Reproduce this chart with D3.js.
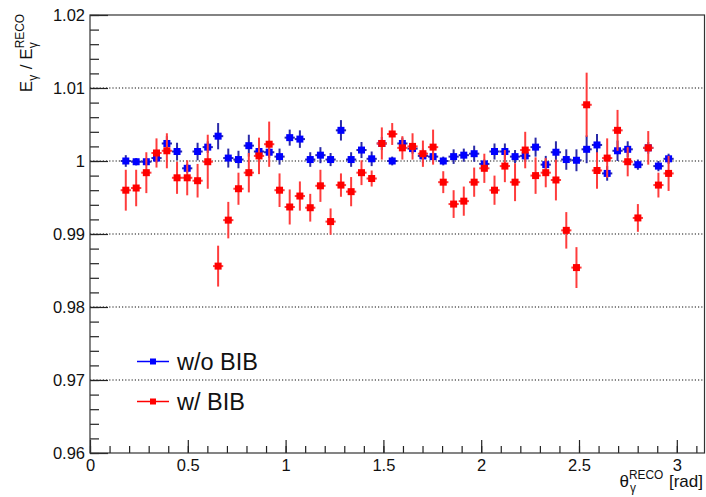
<!DOCTYPE html>
<html>
<head>
<meta charset="utf-8">
<script src="https://cdn.jsdelivr.net/npm/d3@7"></script>
<style>
  body { margin: 0; background: #fff; }
  text { font-family: "Liberation Sans", Arial, Helvetica, sans-serif; fill: #111; }
</style>
</head>
<body>
<div id="chart"></div>
<script>
// bin centres (theta, rad) of the filled bins
const theta = [0.183, 0.236, 0.288, 0.340, 0.393, 0.445, 0.497, 0.550, 0.602, 0.655,
  0.707, 0.759, 0.812, 0.864, 0.916, 0.969, 1.021, 1.073, 1.126, 1.178,
  1.230, 1.283, 1.335, 1.388, 1.440, 1.492, 1.545, 1.597, 1.649, 1.702,
  1.754, 1.806, 1.859, 1.911, 1.964, 2.016, 2.068, 2.121, 2.173, 2.225,
  2.278, 2.330, 2.382, 2.435, 2.487, 2.539, 2.592, 2.644, 2.697, 2.749,
  2.801, 2.854, 2.906, 2.958];
const thetaHalfWidth = 0.0262;

// w/o BIB
const noBib = [1.0000, 0.9999, 0.9999, 1.0004, 1.0024, 1.0013, 0.9990, 1.0013, 1.0019, 1.0034,
  1.0004, 1.0002, 1.0021, 1.0013, 1.0012, 1.0006, 1.0032, 1.0030, 1.0002, 1.0008,
  1.0002, 1.0042, 1.0002, 1.0015, 1.0003, 1.0024, 1.0000, 1.0024, 1.0017, 1.0007,
  1.0006, 1.0000, 1.0006, 1.0008, 1.0010, 0.9996, 1.0013, 1.0013, 1.0006, 1.0007,
  1.0019, 0.9995, 1.0012, 1.0002, 1.0001, 1.0016, 1.0022, 0.9983, 1.0014, 1.0016,
  0.9995, 1.0018, 0.9993, 1.0003];
const noBibErr = [0.0008, 0.0005, 0.0005, 0.0006, 0.0010, 0.0012, 0.0006, 0.0012, 0.0008, 0.0018,
  0.0013, 0.0012, 0.0015, 0.0012, 0.0008, 0.0011, 0.0011, 0.0012, 0.0010, 0.0011,
  0.0009, 0.0014, 0.0010, 0.0011, 0.0010, 0.0009, 0.0006, 0.0008, 0.0007, 0.0010,
  0.0008, 0.0006, 0.0010, 0.0009, 0.0011, 0.0006, 0.0011, 0.0011, 0.0009, 0.0008,
  0.0013, 0.0012, 0.0015, 0.0014, 0.0015, 0.0019, 0.0015, 0.0010, 0.0014, 0.0011,
  0.0007, 0.0008, 0.0007, 0.0007];

// w/ BIB
const withBib = [0.9960, 0.9963, 0.9984, 1.0011, 1.0014, 0.9977, 0.9977, 0.9973, 0.9999, 0.9856,
  0.9919, 0.9962, 0.9984, 1.0007, 1.0023, 0.9960, 0.9937, 0.9952, 0.9936, 0.9966,
  0.9917, 0.9967, 0.9958, 0.9984, 0.9976, 1.0024, 1.0037, 1.0018, 1.0020, 1.0010,
  1.0019, 0.9971, 0.9941, 0.9945, 0.9971, 0.9990, 0.9960, 0.9993, 0.9971, 1.0015,
  0.9980, 0.9984, 0.9974, 0.9905, 0.9854, 1.0077, 0.9987, 1.0004, 1.0042, 0.9999,
  0.9922, 1.0018, 0.9967, 0.9983];
const withBibErr = [0.0028, 0.0025, 0.0028, 0.0020, 0.0024, 0.0022, 0.0024, 0.0023, 0.0037, 0.0028,
  0.0025, 0.0022, 0.0027, 0.0025, 0.0031, 0.0023, 0.0024, 0.0020, 0.0019, 0.0022,
  0.0018, 0.0016, 0.0020, 0.0017, 0.0011, 0.0022, 0.0015, 0.0016, 0.0018, 0.0018,
  0.0024, 0.0015, 0.0019, 0.0020, 0.0020, 0.0020, 0.0020, 0.0022, 0.0026, 0.0025,
  0.0025, 0.0020, 0.0028, 0.0025, 0.0028, 0.0044, 0.0025, 0.0027, 0.0028, 0.0020,
  0.0019, 0.0023, 0.0017, 0.0024];

// axis ticks and labels
const yTicks = [0.96, 0.97, 0.98, 0.99, 1.00, 1.01, 1.02];
const yTickLabels = ["0.96", "0.97", "0.98", "0.99", "1", "1.01", "1.02"];
const xTicks = [0, 0.5, 1, 1.5, 2, 2.5, 3];
const xTickLabels = ["0", "0.5", "1", "1.5", "2", "2.5", "3"];
const legendLabels = ["w/o BIB", "w/ BIB"];

const width = 706, height = 497;
const plot = { left: 90, right: 704.5, top: 15, bottom: 453 };

const svg = d3.select("#chart").append("svg")
  .attr("width", width)
  .attr("height", height);

const x = d3.scaleLinear().domain([0, Math.PI]).range([plot.left, plot.right]);
const y = d3.scaleLinear().domain([0.96, 1.02]).range([plot.bottom, plot.top]);

// dotted horizontal grid (inner major ticks only)
svg.append("g")
  .selectAll("line")
  .data(yTicks.slice(1, -1))
  .enter().append("line")
  .attr("x1", plot.left)
  .attr("x2", plot.right)
  .attr("y1", d => y(d))
  .attr("y2", d => y(d))
  .attr("stroke", "#111")
  .attr("stroke-width", 1.2)
  .attr("stroke-dasharray", "1.2,2");

// Y axis: major + minor ticks pointing inside
const yMinor = d3.range(0.96, 1.0201, 0.002);
svg.append("g")
  .attr("transform", "translate(" + plot.left + ",0)")
  .call(d3.axisLeft(y).tickValues(yMinor).tickSize(-9).tickFormat(""))
  .call(g => g.select(".domain").remove());
svg.append("g")
  .attr("transform", "translate(" + plot.left + ",0)")
  .call(d3.axisLeft(y).tickValues(yTicks).tickSize(-18).tickPadding(5)
    .tickFormat((d, i) => yTickLabels[i]))
  .call(g => g.select(".domain").remove())
  .call(g => g.selectAll("text").attr("font-size", 16.5).attr("dy", "0.35em"));

// X axis
const xMinor = d3.range(0, 3.15, 0.1);
svg.append("g")
  .attr("transform", "translate(0," + plot.bottom + ")")
  .call(d3.axisBottom(x).tickValues(xMinor).tickSize(-7).tickFormat(""))
  .call(g => g.select(".domain").remove());
svg.append("g")
  .attr("transform", "translate(0," + plot.bottom + ")")
  .call(d3.axisBottom(x).tickValues(xTicks).tickSize(-13).tickPadding(6)
    .tickFormat((d, i) => xTickLabels[i]))
  .call(g => g.select(".domain").remove())
  .call(g => g.selectAll("text").attr("font-size", 16.5));

svg.selectAll(".tick line").attr("stroke", "#222").attr("stroke-width", 1.2);
svg.selectAll(".tick text").attr("fill", "#111").attr("font-family", "Liberation Sans, Arial, sans-serif");

// frame
svg.append("rect")
  .attr("x", plot.left)
  .attr("y", plot.top)
  .attr("width", plot.right - plot.left)
  .attr("height", plot.bottom - plot.top)
  .attr("fill", "none")
  .attr("stroke", "#333")
  .attr("stroke-width", 1.2);

// draw one series with x/y error bars and square markers
function drawSeries(values, errors, color, errColor) {
  const data = theta.map((t, i) => ({ t: t, v: values[i], e: errors[i] }));
  const g = svg.append("g");
  g.selectAll(".ey").data(data).enter().append("line")
    .attr("x1", d => x(d.t)).attr("x2", d => x(d.t))
    .attr("y1", d => y(d.v - d.e)).attr("y2", d => y(d.v + d.e))
    .attr("stroke", errColor).attr("stroke-width", 2);
  g.selectAll(".ex").data(data).enter().append("line")
    .attr("x1", d => x(d.t - thetaHalfWidth)).attr("x2", d => x(d.t + thetaHalfWidth))
    .attr("y1", d => y(d.v)).attr("y2", d => y(d.v))
    .attr("stroke", errColor).attr("stroke-width", 2);
  g.selectAll("rect").data(data).enter().append("rect")
    .attr("x", d => x(d.t) - 3.5).attr("y", d => y(d.v) - 3.5)
    .attr("width", 7).attr("height", 7)
    .attr("fill", color);
}

drawSeries(noBib, noBibErr, "#0000ff", "#2a2aa8");
drawSeries(withBib, withBibErr, "#ff0000", "#ff3c3c");

// legend
const legendColors = ["#0000ff", "#ff0000"];
const legendY = [361.5, 401.5];
legendLabels.forEach(function(label, i) {
  svg.append("line")
    .attr("x1", 137).attr("x2", 169)
    .attr("y1", legendY[i]).attr("y2", legendY[i])
    .attr("stroke", legendColors[i]).attr("stroke-width", 1.5);
  svg.append("rect")
    .attr("x", 150).attr("y", legendY[i] - 3)
    .attr("width", 6).attr("height", 6)
    .attr("fill", legendColors[i]);
  svg.append("text")
    .attr("x", 177).attr("y", legendY[i] + 8.5)
    .attr("font-size", 23.5)
    .text(label);
});

// rich text helper: parts with optional stacked sup/sub, drawn right-aligned at (0,0) of g
function richText(g, parts, size) {
  const small = size * 0.7;
  let cursor = 0;
  const pieces = [];
  parts.forEach(function(p) {
    if (p.text !== undefined) {
      const t = g.append("text").attr("font-size", size).attr("x", cursor)
        .style("white-space", "pre").text(p.text);
      pieces.push(t);
      cursor += t.node().getComputedTextLength();
    } else {
      let w = 0;
      if (p.sup) {
        const t = g.append("text").attr("font-size", small).attr("x", cursor).attr("y", -size * 0.46).text(p.sup);
        pieces.push(t);
        w = Math.max(w, t.node().getComputedTextLength());
      }
      if (p.sub) {
        const t = g.append("text").attr("font-size", small).attr("x", cursor + (p.subShift || 0)).attr("y", size * 0.3).text(p.sub);
        pieces.push(t);
        w = Math.max(w, t.node().getComputedTextLength() + (p.subShift || 0));
      }
      cursor += w + 1;
    }
  });
  // shift everything left so the text ends at 0
  pieces.forEach(t => t.attr("x", +t.attr("x") - cursor));
}

// x title
const xTitle = svg.append("g").attr("transform", "translate(703,487)");
richText(xTitle, [{ text: "θ" }, { sup: "RECO", sub: "γ", subShift: 1 }, { text: "\u00a0[rad]" }], 17);

// y title
const yTitle = svg.append("g").attr("transform", "translate(32,13) rotate(-90)");
richText(yTitle, [{ text: "E" }, { sub: "γ" }, { text: "\u00a0/\u00a0E" }, { sup: "RECO", sub: "γ" }], 17);
</script>
</body>
</html>
